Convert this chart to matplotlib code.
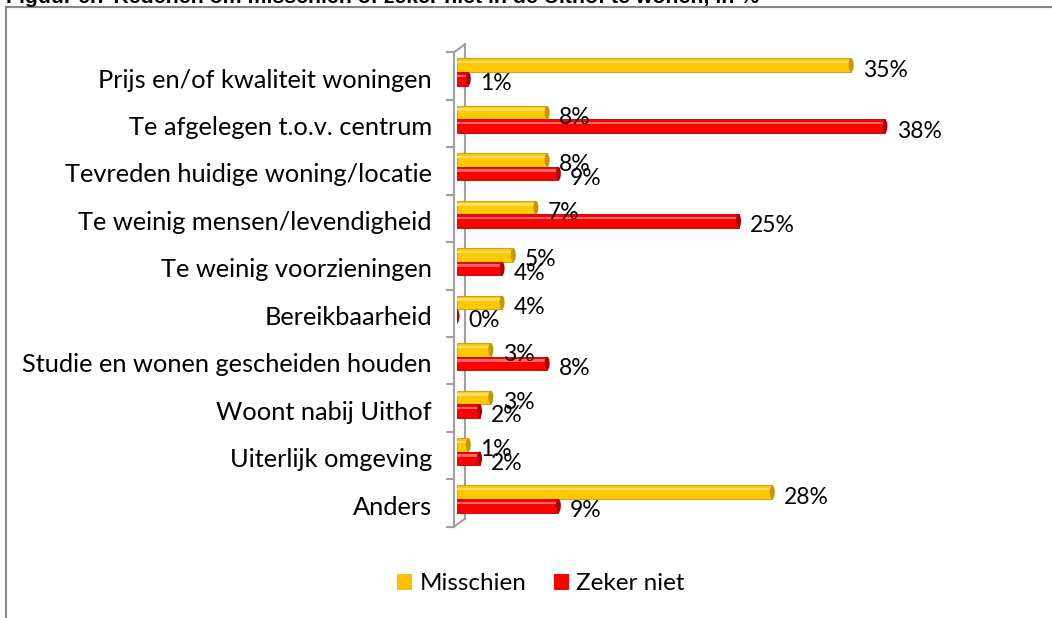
import numpy as np
import matplotlib
matplotlib.use("Agg")
import matplotlib.pyplot as plt
from matplotlib.patches import Ellipse, Patch
from matplotlib.lines import Line2D

categories = ["Prijs en/of kwaliteit woningen", "Te afgelegen t.o.v. centrum",
              "Tevreden huidige woning/locatie", "Te weinig mensen/levendigheid",
              "Te weinig voorzieningen", "Bereikbaarheid",
              "Studie en wonen gescheiden houden", "Woont nabij Uithof",
              "Uiterlijk omgeving", "Anders"]
misschien = [35, 8, 8, 7, 5, 4, 3, 3, 1, 28]
zeker_niet = [1, 38, 9, 25, 4, 0, 8, 2, 2, 9]
series_names = ["Misschien", "Zeker niet"]
title = "Figuur 6.7 Redenen om misschien of zeker niet in de Uithof te wonen, in %"

W, H = 1052, 618
fig = plt.figure(figsize=(W / 100, H / 100), dpi=100)
font = "Lato"

# axes: x 0..40 -> px 457..907, rows 0..9 with 47.4px spacing
ax = fig.add_axes([457 / W, 1 - 522.7 / H, 450.4 / W, 474.4 / H])
ax.set_xlim(0, 40)
ax.set_ylim(9.5, -0.5)

y = np.arange(len(categories))
bh = 0.285
off = 0.143
cols = [("#FFC800", "#C89600", "#FFE066"), ("#FF0000", "#B00000", "#FF6666")]
cap_w = 0.45

for vals, dy, (c, dark, light), name in zip([misschien, zeker_niet], [-off, off], cols, series_names):
    ax.barh(y + dy, vals, height=bh, color=c, edgecolor=dark, linewidth=0.6, zorder=3, label=name)
    # highlight stripe for cylinder look
    ax.barh(y + dy - bh * 0.22, vals, height=bh * 0.18, color=light, linewidth=0, zorder=4)
    for yi, v in zip(y, vals):
        ax.add_patch(Ellipse((v, yi + dy), cap_w, bh, facecolor=dark, edgecolor="none", zorder=5))
        ax.annotate(f"{v}%", (v, yi + dy), xytext=(8.5, -3.5), textcoords="offset points",
                    ha="left", va="center", fontsize=16.5, family=font, color="black",
                    zorder=6, annotation_clip=False)

# 3D-ish axis wall
gray = "#A0A0A0"
px = 40 / 450.4  # data units per pixel in x
py = 1 / 47.4
xf, xb = -3 * px, 8 * px
top, bot = -0.5, 9.5
ax.plot([xf, xf], [top + 4 * py, bot + 4 * py], color=gray, lw=1.5, clip_on=False, zorder=2)
ax.plot([xb, xb], [top - 4 * py, bot - 4 * py], color=gray, lw=1.5, clip_on=False, zorder=1)
ax.plot([xf, xb], [top + 4 * py, top - 4 * py], color=gray, lw=1.5, clip_on=False, zorder=2)
ax.plot([xf, xb], [bot + 4 * py, bot - 4 * py], color=gray, lw=1.5, clip_on=False, zorder=2)
for b in np.arange(-0.5, 10.0, 1.0):
    ax.plot([xf - 7 * px, xf], [b + 4 * py, b + 4 * py], color=gray, lw=1.5, clip_on=False)

ax.set_yticks(y + 0.127)
ax.set_yticklabels(categories, fontsize=18.3, family=font)
ax.tick_params(axis="y", length=0, pad=18)
ax.set_xticks([])
for s in ax.spines.values():
    s.set_visible(False)
ax.patch.set_alpha(0)

# legend
handles = [Patch(facecolor="#FFC000", edgecolor="none"), Patch(facecolor="#FF0000", edgecolor="none")]
fig.legend(handles, series_names, loc="center", bbox_to_anchor=(541 / W, 1 - 584 / H),
           ncol=2, frameon=False, prop={"family": font, "size": 17.5},
           handlelength=0.6, handleheight=0.6, handletextpad=0.3, columnspacing=1.15)

# outer frame and cut-off title
fig.add_artist(Line2D([6 / W, 1], [1 - 6.5 / H, 1 - 6.5 / H], color="#888888", lw=1.5))
fig.add_artist(Line2D([6 / W, 6 / W], [0, 1 - 6.5 / H], color="#888888", lw=1.5))
fig.text(6 / W, 1 - 2.7 / H, title, fontsize=15.3, fontweight="bold",
         family="Liberation Sans", va="baseline", ha="left")

fig.savefig("out.png", dpi=100)
